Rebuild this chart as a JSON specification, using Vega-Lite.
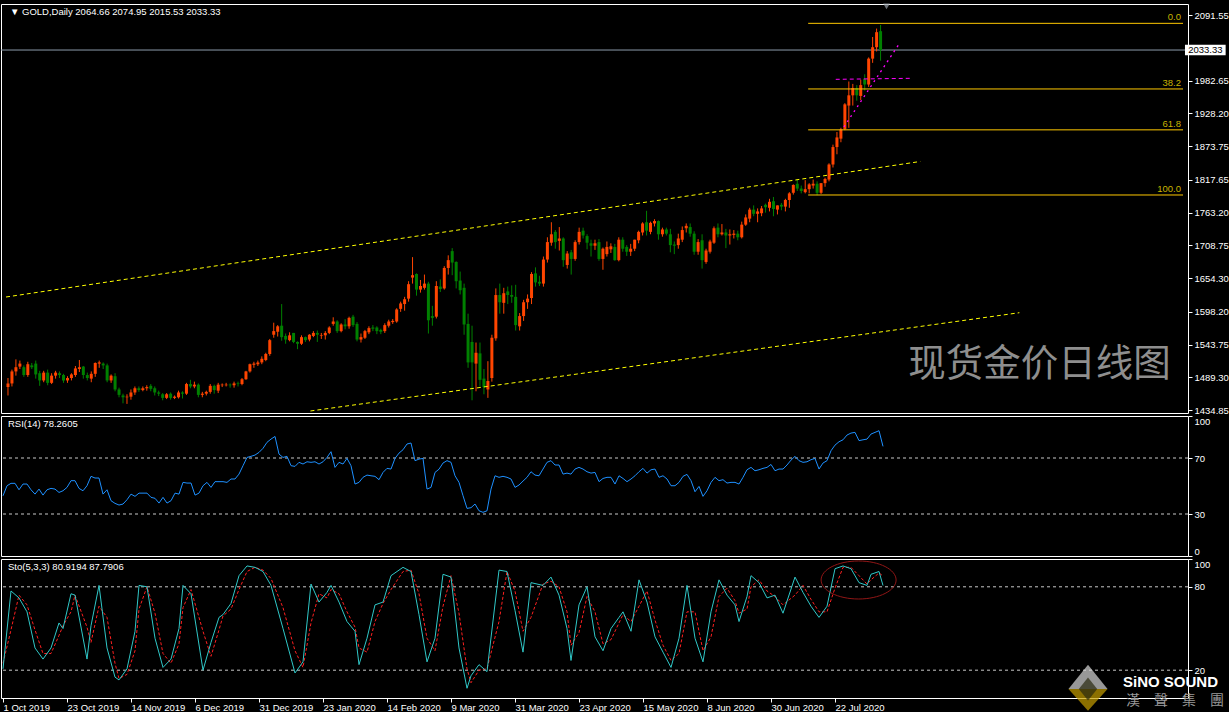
{
"$schema":"https://vega.github.io/schema/vega-lite/v6.json",
"background":"#000000",
"padding":{"left":0,"top":2,"right":0,"bottom":0},
"spacing":3,
"bounds":"flush",
"config":{"view":{"stroke":"#ffffff","strokeWidth":1},"font":"Liberation Sans"},
"datasets":{
"bars":[
{"i":0,"o":1473,"h":1488,"l":1459,"c":1479},{"i":1,"o":1479,"h":1502,"l":1474,"c":1499},{"i":2,"o":1499,"h":1519,"l":1492,"c":1506},{"i":3,"o":1507,"h":1517,"l":1503,"c":1512},{"i":4,"o":1506,"h":1509,"l":1490,"c":1493},{"i":5,"o":1493,"h":1515,"l":1490,"c":1511},{"i":6,"o":1509,"h":1513,"l":1503,"c":1506},{"i":7,"o":1512,"h":1517,"l":1487,"c":1494},{"i":8,"o":1496,"h":1500,"l":1475,"c":1484},{"i":9,"o":1484,"h":1500,"l":1481,"c":1497},
{"i":10,"o":1497,"h":1502,"l":1476,"c":1480},{"i":11,"o":1480,"h":1496,"l":1478,"c":1492},{"i":12,"o":1492,"h":1500,"l":1487,"c":1497},{"i":13,"o":1496,"h":1499,"l":1488,"c":1493},{"i":14,"o":1493,"h":1495,"l":1480,"c":1484},{"i":15,"o":1484,"h":1491,"l":1480,"c":1488},{"i":16,"o":1488,"h":1496,"l":1484,"c":1494},{"i":17,"o":1493,"h":1508,"l":1490,"c":1504},{"i":18,"o":1503,"h":1518,"l":1498,"c":1506},{"i":19,"o":1507,"h":1508,"l":1487,"c":1493},
{"i":20,"o":1493,"h":1497,"l":1484,"c":1488},{"i":21,"o":1487,"h":1499,"l":1481,"c":1495},{"i":22,"o":1495,"h":1514,"l":1490,"c":1513},{"i":23,"o":1512,"h":1517,"l":1505,"c":1514},{"i":24,"o":1512,"h":1514,"l":1503,"c":1509},{"i":25,"o":1509,"h":1512,"l":1481,"c":1484},{"i":26,"o":1484,"h":1494,"l":1480,"c":1492},{"i":27,"o":1491,"h":1496,"l":1466,"c":1469},{"i":28,"o":1469,"h":1472,"l":1456,"c":1460},{"i":29,"o":1459,"h":1462,"l":1446,"c":1456},
{"i":30,"o":1456,"h":1461,"l":1445,"c":1457},{"i":31,"o":1457,"h":1469,"l":1452,"c":1464},{"i":32,"o":1464,"h":1474,"l":1460,"c":1471},{"i":33,"o":1471,"h":1474,"l":1465,"c":1468},{"i":34,"o":1468,"h":1474,"l":1466,"c":1471},{"i":35,"o":1471,"h":1476,"l":1467,"c":1473},{"i":36,"o":1475,"h":1478,"l":1466,"c":1470},{"i":37,"o":1471,"h":1474,"l":1459,"c":1464},{"i":38,"o":1464,"h":1467,"l":1458,"c":1462},{"i":39,"o":1461,"h":1463,"l":1451,"c":1455},
{"i":40,"o":1455,"h":1463,"l":1453,"c":1461},{"i":41,"o":1462,"h":1464,"l":1452,"c":1455},{"i":42,"o":1455,"h":1459,"l":1453,"c":1457},{"i":43,"o":1456,"h":1467,"l":1454,"c":1464},{"i":44,"o":1464,"h":1466,"l":1454,"c":1462},{"i":45,"o":1462,"h":1480,"l":1460,"c":1478},{"i":46,"o":1478,"h":1485,"l":1471,"c":1474},{"i":47,"o":1474,"h":1482,"l":1471,"c":1477},{"i":48,"o":1477,"h":1479,"l":1456,"c":1460},{"i":49,"o":1460,"h":1465,"l":1456,"c":1462},
{"i":50,"o":1462,"h":1467,"l":1459,"c":1465},{"i":51,"o":1465,"h":1478,"l":1462,"c":1475},{"i":52,"o":1475,"h":1477,"l":1462,"c":1468},{"i":53,"o":1467,"h":1480,"l":1463,"c":1477},{"i":54,"o":1476,"h":1479,"l":1473,"c":1477},{"i":55,"o":1476,"h":1480,"l":1474,"c":1477},{"i":56,"o":1477,"h":1479,"l":1472,"c":1476},{"i":57,"o":1476,"h":1482,"l":1472,"c":1479},{"i":58,"o":1479,"h":1482,"l":1474,"c":1478},{"i":59,"o":1478,"h":1488,"l":1476,"c":1486},
{"i":60,"o":1486,"h":1500,"l":1485,"c":1499},{"i":61,"o":1499,"h":1512,"l":1497,"c":1511},{"i":62,"o":1510,"h":1515,"l":1505,"c":1512},{"i":63,"o":1511,"h":1517,"l":1508,"c":1514},{"i":64,"o":1514,"h":1524,"l":1511,"c":1520},{"i":65,"o":1518,"h":1530,"l":1516,"c":1528},{"i":66,"o":1528,"h":1553,"l":1525,"c":1551},{"i":67,"o":1560,"h":1580,"l":1555,"c":1566},{"i":68,"o":1565,"h":1576,"l":1557,"c":1574},{"i":69,"o":1575,"h":1611,"l":1550,"c":1556},
{"i":70,"o":1558,"h":1562,"l":1545,"c":1552},{"i":71,"o":1551,"h":1564,"l":1549,"c":1559},{"i":72,"o":1563,"h":1563,"l":1546,"c":1548},{"i":73,"o":1548,"h":1549,"l":1536,"c":1545},{"i":74,"o":1545,"h":1559,"l":1543,"c":1556},{"i":75,"o":1556,"h":1557,"l":1548,"c":1551},{"i":76,"o":1552,"h":1561,"l":1549,"c":1560},{"i":77,"o":1558,"h":1566,"l":1556,"c":1563},{"i":78,"o":1563,"h":1567,"l":1548,"c":1560},{"i":79,"o":1558,"h":1563,"l":1553,"c":1559},
{"i":80,"o":1559,"h":1566,"l":1552,"c":1563},{"i":81,"o":1563,"h":1574,"l":1561,"c":1572},{"i":82,"o":1578,"h":1589,"l":1575,"c":1582},{"i":83,"o":1582,"h":1584,"l":1563,"c":1566},{"i":84,"o":1566,"h":1579,"l":1564,"c":1577},{"i":85,"o":1577,"h":1586,"l":1569,"c":1574},{"i":86,"o":1574,"h":1590,"l":1570,"c":1588},{"i":87,"o":1590,"h":1593,"l":1573,"c":1576},{"i":88,"o":1578,"h":1581,"l":1549,"c":1552},{"i":89,"o":1552,"h":1562,"l":1547,"c":1556},
{"i":90,"o":1555,"h":1568,"l":1553,"c":1566},{"i":91,"o":1564,"h":1574,"l":1561,"c":1571},{"i":92,"o":1572,"h":1576,"l":1566,"c":1570},{"i":93,"o":1572,"h":1574,"l":1561,"c":1566},{"i":94,"o":1568,"h":1570,"l":1561,"c":1565},{"i":95,"o":1566,"h":1579,"l":1563,"c":1576},{"i":96,"o":1575,"h":1585,"l":1572,"c":1582},{"i":97,"o":1581,"h":1586,"l":1578,"c":1583},{"i":98,"o":1582,"h":1604,"l":1580,"c":1602},{"i":99,"o":1603,"h":1615,"l":1598,"c":1612},
{"i":100,"o":1611,"h":1623,"l":1600,"c":1619},{"i":101,"o":1620,"h":1649,"l":1615,"c":1644},{"i":102,"o":1655,"h":1689,"l":1645,"c":1659},{"i":103,"o":1661,"h":1662,"l":1625,"c":1635},{"i":104,"o":1635,"h":1651,"l":1630,"c":1641},{"i":105,"o":1638,"h":1660,"l":1635,"c":1645},{"i":106,"o":1645,"h":1648,"l":1562,"c":1584},{"i":107,"o":1591,"h":1608,"l":1575,"c":1588},{"i":108,"o":1590,"h":1649,"l":1587,"c":1641},{"i":109,"o":1640,"h":1652,"l":1631,"c":1636},
{"i":110,"o":1637,"h":1674,"l":1635,"c":1671},{"i":111,"o":1671,"h":1692,"l":1660,"c":1684},{"i":112,"o":1699,"h":1704,"l":1659,"c":1680},{"i":113,"o":1681,"h":1682,"l":1637,"c":1649},{"i":114,"o":1650,"h":1665,"l":1627,"c":1634},{"i":115,"o":1638,"h":1645,"l":1560,"c":1577},{"i":116,"o":1578,"h":1595,"l":1505,"c":1514},{"i":117,"o":1548,"h":1575,"l":1451,"c":1514},{"i":118,"o":1512,"h":1547,"l":1466,"c":1530},{"i":119,"o":1529,"h":1547,"l":1474,"c":1485},
{"i":120,"o":1487,"h":1503,"l":1461,"c":1473},{"i":121,"o":1469,"h":1516,"l":1455,"c":1483},{"i":122,"o":1488,"h":1560,"l":1482,"c":1555},{"i":123,"o":1554,"h":1637,"l":1550,"c":1626},{"i":124,"o":1626,"h":1645,"l":1595,"c":1614},{"i":125,"o":1613,"h":1638,"l":1595,"c":1629},{"i":126,"o":1632,"h":1640,"l":1611,"c":1626},{"i":127,"o":1626,"h":1642,"l":1613,"c":1623},{"i":128,"o":1623,"h":1643,"l":1567,"c":1576},{"i":129,"o":1574,"h":1596,"l":1567,"c":1591},
{"i":130,"o":1591,"h":1618,"l":1583,"c":1614},{"i":131,"o":1614,"h":1627,"l":1603,"c":1620},{"i":132,"o":1621,"h":1664,"l":1611,"c":1661},{"i":133,"o":1662,"h":1672,"l":1640,"c":1647},{"i":134,"o":1648,"h":1658,"l":1641,"c":1645},{"i":135,"o":1645,"h":1690,"l":1640,"c":1685},{"i":136,"o":1685,"h":1722,"l":1680,"c":1714},{"i":137,"o":1713,"h":1747,"l":1708,"c":1727},{"i":138,"o":1731,"h":1734,"l":1703,"c":1714},{"i":139,"o":1716,"h":1739,"l":1700,"c":1720},
{"i":140,"o":1720,"h":1722,"l":1673,"c":1684},{"i":141,"o":1676,"h":1699,"l":1670,"c":1695},{"i":142,"o":1697,"h":1701,"l":1660,"c":1686},{"i":143,"o":1686,"h":1717,"l":1683,"c":1714},{"i":144,"o":1714,"h":1738,"l":1710,"c":1731},{"i":145,"o":1733,"h":1738,"l":1720,"c":1725},{"i":146,"o":1724,"h":1727,"l":1702,"c":1713},{"i":147,"o":1712,"h":1718,"l":1690,"c":1708},{"i":148,"o":1708,"h":1718,"l":1701,"c":1712},{"i":149,"o":1714,"h":1719,"l":1683,"c":1686},
{"i":150,"o":1686,"h":1705,"l":1668,"c":1703},{"i":151,"o":1694,"h":1715,"l":1690,"c":1706},{"i":152,"o":1702,"h":1712,"l":1696,"c":1707},{"i":153,"o":1706,"h":1711,"l":1683,"c":1684},{"i":154,"o":1684,"h":1722,"l":1682,"c":1718},{"i":155,"o":1718,"h":1722,"l":1698,"c":1703},{"i":156,"o":1706,"h":1709,"l":1691,"c":1698},{"i":157,"o":1698,"h":1711,"l":1691,"c":1703},{"i":158,"o":1703,"h":1718,"l":1699,"c":1718},{"i":159,"o":1717,"h":1733,"l":1712,"c":1731},
{"i":160,"o":1730,"h":1747,"l":1725,"c":1745},{"i":161,"o":1747,"h":1766,"l":1725,"c":1733},{"i":162,"o":1731,"h":1748,"l":1727,"c":1746},{"i":163,"o":1745,"h":1752,"l":1740,"c":1749},{"i":164,"o":1749,"h":1750,"l":1718,"c":1727},{"i":165,"o":1727,"h":1738,"l":1723,"c":1735},{"i":166,"o":1735,"h":1738,"l":1725,"c":1728},{"i":167,"o":1727,"h":1736,"l":1697,"c":1709},{"i":168,"o":1710,"h":1715,"l":1694,"c":1708},{"i":169,"o":1709,"h":1728,"l":1703,"c":1720},
{"i":170,"o":1718,"h":1740,"l":1714,"c":1734},{"i":171,"o":1737,"h":1745,"l":1730,"c":1741},{"i":172,"o":1739,"h":1745,"l":1723,"c":1728},{"i":173,"o":1728,"h":1732,"l":1693,"c":1698},{"i":174,"o":1698,"h":1719,"l":1693,"c":1714},{"i":175,"o":1717,"h":1727,"l":1670,"c":1684},{"i":176,"o":1681,"h":1703,"l":1678,"c":1700},{"i":177,"o":1698,"h":1718,"l":1695,"c":1715},{"i":178,"o":1713,"h":1740,"l":1711,"c":1737},{"i":179,"o":1738,"h":1745,"l":1722,"c":1727},
{"i":180,"o":1727,"h":1744,"l":1725,"c":1730},{"i":181,"o":1730,"h":1736,"l":1704,"c":1725},{"i":182,"o":1725,"h":1735,"l":1710,"c":1727},{"i":183,"o":1726,"h":1734,"l":1720,"c":1728},{"i":184,"o":1728,"h":1733,"l":1717,"c":1722},{"i":185,"o":1722,"h":1748,"l":1720,"c":1743},{"i":186,"o":1743,"h":1760,"l":1741,"c":1755},{"i":187,"o":1753,"h":1771,"l":1747,"c":1768},{"i":188,"o":1768,"h":1775,"l":1757,"c":1761},{"i":189,"o":1761,"h":1770,"l":1747,"c":1765},
{"i":190,"o":1762,"h":1774,"l":1757,"c":1770},{"i":191,"o":1776,"h":1778,"l":1763,"c":1772},{"i":192,"o":1771,"h":1786,"l":1765,"c":1781},{"i":193,"o":1782,"h":1789,"l":1757,"c":1769},{"i":194,"o":1768,"h":1775,"l":1760,"c":1775},{"i":195,"o":1776,"h":1779,"l":1767,"c":1773},{"i":196,"o":1773,"h":1786,"l":1765,"c":1784},{"i":197,"o":1784,"h":1797,"l":1771,"c":1795},{"i":198,"o":1796,"h":1810,"l":1793,"c":1809},{"i":199,"o":1811,"h":1818,"l":1799,"c":1803},
{"i":200,"o":1803,"h":1808,"l":1795,"c":1799},{"i":201,"o":1797,"h":1817,"l":1795,"c":1802},{"i":202,"o":1802,"h":1812,"l":1795,"c":1810},{"i":203,"o":1808,"h":1818,"l":1803,"c":1811},{"i":204,"o":1811,"h":1815,"l":1792,"c":1796},{"i":205,"o":1796,"h":1812,"l":1794,"c":1812},{"i":206,"o":1812,"h":1821,"l":1806,"c":1819},{"i":207,"o":1818,"h":1845,"l":1815,"c":1843},{"i":208,"o":1843,"h":1876,"l":1838,"c":1872},{"i":209,"o":1872,"h":1897,"l":1860,"c":1888},
{"i":210,"o":1886,"h":1904,"l":1880,"c":1901},{"i":211,"o":1902,"h":1945,"l":1900,"c":1943},{"i":212,"o":1941,"h":1981,"l":1904,"c":1958},{"i":213,"o":1958,"h":1977,"l":1941,"c":1970},{"i":214,"o":1970,"h":1975,"l":1949,"c":1958},{"i":215,"o":1957,"h":1984,"l":1950,"c":1975},{"i":216,"o":1985,"h":1993,"l":1966,"c":1976},{"i":217,"o":1976,"h":2021,"l":1972,"c":2019},{"i":218,"o":2019,"h":2055,"l":2012,"c":2038},{"i":219,"o":2038,"h":2069,"l":2031,"c":2063},
{"i":220,"o":2064.66,"h":2074.95,"l":2015.53,"c":2033.33}
],
"rsi":[
{"i":0,"v":43},{"i":1,"v":50.2},{"i":2,"v":51.9},{"i":3,"v":51.9},{"i":4,"v":47.3},{"i":5,"v":51.4},{"i":6,"v":51.4},{"i":7,"v":47.3},{"i":8,"v":44.2},{"i":9,"v":47.8},{"i":10,"v":43.5},{"i":11,"v":47.3},{"i":12,"v":48.3},{"i":13,"v":47.8},{"i":14,"v":45.4},{"i":15,"v":46.6},{"i":16,"v":49},{"i":17,"v":53.8},{"i":18,"v":53.8},{"i":19,"v":48.3},{"i":20,"v":46.6},{"i":21,"v":50.2},{"i":22,"v":56.9},{"i":23,"v":55.7},{"i":24,"v":55.7},{"i":25,"v":44.2},{"i":26,"v":47.3},{"i":27,"v":39.5},{"i":28,"v":37.6},{"i":29,"v":36.4},{"i":30,"v":37.1},{"i":31,"v":40.2},{"i":32,"v":44.2},{"i":33,"v":42.6},{"i":34,"v":44.9},{"i":35,"v":44.9},{"i":36,"v":44.9},{"i":37,"v":41.9},{"i":38,"v":41.2},{"i":39,"v":37.8},{"i":40,"v":41.9},{"i":41,"v":37.8},{"i":42,"v":39.5},{"i":43,"v":44.9},{"i":44,"v":44.2},{"i":45,"v":52.6},{"i":46,"v":52.1},{"i":47,"v":52.1},{"i":48,"v":43.5},{"i":49,"v":44.9},{"i":50,"v":50.2},{"i":51,"v":52.6},{"i":52,"v":49},{"i":53,"v":53.1},{"i":54,"v":53.1},{"i":55,"v":53.1},{"i":56,"v":52.6},{"i":57,"v":55},{"i":58,"v":55},{"i":59,"v":58.5},{"i":60,"v":64.5},{"i":61,"v":70.4},{"i":62,"v":71.2},{"i":63,"v":72.1},{"i":64,"v":74},{"i":65,"v":76.9},{"i":66,"v":81.2},{"i":67,"v":83.5},{"i":68,"v":85.4},{"i":69,"v":72.8},{"i":70,"v":70.4},{"i":71,"v":71.2},{"i":72,"v":64.5},{"i":73,"v":64},{"i":74,"v":66.9},{"i":75,"v":65.7},{"i":76,"v":67.3},{"i":77,"v":66.9},{"i":78,"v":67.3},{"i":79,"v":65.7},{"i":80,"v":67.3},{"i":81,"v":70.4},{"i":82,"v":74.5},{"i":83,"v":63.3},{"i":84,"v":66.9},{"i":85,"v":65.7},{"i":86,"v":69.7},{"i":87,"v":64.5},{"i":88,"v":51.4},{"i":89,"v":52.6},{"i":90,"v":56.2},{"i":91,"v":57.8},{"i":92,"v":57.3},{"i":93,"v":56.9},{"i":94,"v":54.5},{"i":95,"v":59.7},{"i":96,"v":62.6},{"i":97,"v":62.1},{"i":98,"v":69.7},{"i":99,"v":73.5},{"i":100,"v":75.9},{"i":101,"v":80},{"i":102,"v":80.7},{"i":103,"v":68.1},{"i":104,"v":69.2},{"i":105,"v":69.7},{"i":106,"v":47.8},{"i":107,"v":49},{"i":108,"v":59.7},{"i":109,"v":62},{"i":110,"v":66.4},{"i":111,"v":68.1},{"i":112,"v":66.9},{"i":113,"v":57.3},{"i":114,"v":52.6},{"i":115,"v":43.1},{"i":116,"v":34},{"i":117,"v":34.5},{"i":118,"v":37.1},{"i":119,"v":32.3},{"i":120,"v":31.2},{"i":121,"v":32.3},{"i":122,"v":47.8},{"i":123,"v":57.3},{"i":124,"v":56.2},{"i":125,"v":56.9},{"i":126,"v":56.2},{"i":127,"v":55},{"i":128,"v":49},{"i":129,"v":50.7},{"i":130,"v":53.5},{"i":131,"v":56.2},{"i":132,"v":60.2},{"i":133,"v":57.8},{"i":134,"v":57.3},{"i":135,"v":62.1},{"i":136,"v":66.9},{"i":137,"v":68.1},{"i":138,"v":65},{"i":139,"v":65},{"i":140,"v":58.5},{"i":141,"v":59.2},{"i":142,"v":58.5},{"i":143,"v":62.1},{"i":144,"v":63.3},{"i":145,"v":62.1},{"i":146,"v":60.2},{"i":147,"v":59.2},{"i":148,"v":59.7},{"i":149,"v":53.1},{"i":150,"v":55.4},{"i":151,"v":56.2},{"i":152,"v":56.2},{"i":153,"v":51.4},{"i":154,"v":57.3},{"i":155,"v":55.4},{"i":156,"v":53.1},{"i":157,"v":55},{"i":158,"v":57.3},{"i":159,"v":60.2},{"i":160,"v":62.6},{"i":161,"v":59.2},{"i":162,"v":61.6},{"i":163,"v":62.1},{"i":164,"v":56.2},{"i":165,"v":57.3},{"i":166,"v":55},{"i":167,"v":50.2},{"i":168,"v":50.2},{"i":169,"v":52.6},{"i":170,"v":56.9},{"i":171,"v":58.3},{"i":172,"v":53.8},{"i":173,"v":45.9},{"i":174,"v":49.7},{"i":175,"v":42.6},{"i":176,"v":46.6},{"i":177,"v":52.6},{"i":178,"v":56.2},{"i":179,"v":53.8},{"i":180,"v":54.5},{"i":181,"v":52.1},{"i":182,"v":52.6},{"i":183,"v":52.6},{"i":184,"v":51.4},{"i":185,"v":56.2},{"i":186,"v":61.6},{"i":187,"v":63.3},{"i":188,"v":60.9},{"i":189,"v":61.6},{"i":190,"v":62.6},{"i":191,"v":63.3},{"i":192,"v":65.4},{"i":193,"v":60.9},{"i":194,"v":62.1},{"i":195,"v":62.1},{"i":196,"v":65},{"i":197,"v":68.5},{"i":198,"v":71.2},{"i":199,"v":68.1},{"i":200,"v":66.9},{"i":201,"v":67.3},{"i":202,"v":68.8},{"i":203,"v":69.7},{"i":204,"v":62.1},{"i":205,"v":66.4},{"i":206,"v":68.1},{"i":207,"v":75.2},{"i":208,"v":79.2},{"i":209,"v":81.6},{"i":210,"v":83},{"i":211,"v":86.4},{"i":212,"v":87.8},{"i":213,"v":88.3},{"i":214,"v":82.4},{"i":215,"v":83},{"i":216,"v":83.5},{"i":217,"v":87.1},{"i":218,"v":88.3},{"i":219,"v":89.5},{"i":220,"v":78.3}
],
"sto":[
{"i":0,"k":21,"d":25},{"i":2,"k":77,"d":49},{"i":4,"k":72,"d":74},{"i":6,"k":62,"d":67},{"i":8,"k":36,"d":49},{"i":10,"k":28,"d":32},{"i":12,"k":36,"d":32},{"i":14,"k":54,"d":45},{"i":15,"k":50,"d":52},{"i":17,"k":75,"d":62},{"i":18,"k":74,"d":74},{"i":21,"k":28,"d":51},{"i":22,"k":52,"d":40},{"i":24,"k":81,"d":66},{"i":26,"k":36,"d":58},{"i":28,"k":15,"d":25},{"i":29,"k":13,"d":14},{"i":31,"k":21,"d":17},{"i":33,"k":48,"d":34},{"i":34,"k":81,"d":64},{"i":36,"k":80,"d":80},{"i":38,"k":43,"d":61},{"i":40,"k":22,"d":32},{"i":42,"k":28,"d":25},{"i":44,"k":50,"d":39},{"i":45,"k":81,"d":65},{"i":47,"k":75,"d":78},{"i":50,"k":20,"d":48},{"i":52,"k":40,"d":30},{"i":54,"k":58,"d":49},{"i":55,"k":60,"d":59},{"i":57,"k":68,"d":64},{"i":59,"k":88,"d":78},{"i":61,"k":95,"d":91},{"i":63,"k":94,"d":94},{"i":65,"k":91,"d":92},{"i":67,"k":81,"d":86},{"i":70,"k":50,"d":65},{"i":73,"k":18,"d":34},{"i":75,"k":26,"d":22},{"i":77,"k":82,"d":54},{"i":79,"k":69,"d":75},{"i":81,"k":76,"d":72},{"i":82,"k":81,"d":78},{"i":84,"k":69,"d":75},{"i":86,"k":55,"d":62},{"i":88,"k":48,"d":51},{"i":89,"k":24,"d":36},{"i":91,"k":43,"d":33},{"i":93,"k":67,"d":55},{"i":95,"k":69,"d":68},{"i":97,"k":88,"d":78},{"i":100,"k":94,"d":91},{"i":102,"k":91,"d":92},{"i":104,"k":60,"d":75},{"i":106,"k":26,"d":43},{"i":108,"k":43,"d":34},{"i":110,"k":89,"d":66},{"i":112,"k":87,"d":88},{"i":114,"k":36,"d":61},{"i":116,"k":7,"d":21},{"i":117,"k":16,"d":11},{"i":119,"k":24,"d":20},{"i":121,"k":19,"d":21},{"i":124,"k":92,"d":55},{"i":126,"k":91,"d":91},{"i":128,"k":63,"d":77},{"i":130,"k":33,"d":48},{"i":132,"k":83,"d":58},{"i":135,"k":81,"d":82},{"i":137,"k":87,"d":84},{"i":139,"k":74,"d":80},{"i":141,"k":50,"d":62},{"i":142,"k":27,"d":38},{"i":144,"k":67,"d":47},{"i":146,"k":80,"d":73},{"i":148,"k":44,"d":62},{"i":150,"k":34,"d":39},{"i":152,"k":50,"d":42},{"i":154,"k":58,"d":54},{"i":155,"k":62,"d":60},{"i":157,"k":48,"d":55},{"i":159,"k":85,"d":66},{"i":161,"k":69,"d":77},{"i":163,"k":44,"d":56},{"i":165,"k":33,"d":38},{"i":167,"k":22,"d":27},{"i":169,"k":43,"d":32},{"i":171,"k":81,"d":62},{"i":173,"k":43,"d":62},{"i":175,"k":26,"d":34},{"i":177,"k":62,"d":44},{"i":179,"k":85,"d":73},{"i":181,"k":74,"d":79},{"i":183,"k":67,"d":70},{"i":184,"k":55,"d":61},{"i":186,"k":73,"d":64},{"i":187,"k":88,"d":80},{"i":189,"k":83,"d":85},{"i":191,"k":72,"d":77},{"i":193,"k":74,"d":73},{"i":195,"k":61,"d":67},{"i":198,"k":87,"d":74},{"i":200,"k":76,"d":81},{"i":202,"k":66,"d":71},{"i":204,"k":58,"d":62},{"i":206,"k":66,"d":62},{"i":208,"k":93,"d":79},{"i":210,"k":95,"d":94},{"i":212,"k":93,"d":94},{"i":214,"k":83,"d":88},{"i":216,"k":81,"d":82},{"i":217,"k":89,"d":85},{"i":219,"k":91,"d":90},{"i":220,"k":80.92,"d":87.79}
],
"trend":[{"g":"up","i":-0.5,"p":1622.7},{"g":"up","i":230,"p":1848},{"g":"lo","i":76.25,"p":1433.2},{"g":"lo","i":255,"p":1596.6}],
"fib":[{"lvl":"0.0","i0":201.75,"p":2077.7},{"lvl":"38.2","i0":201.75,"p":1968.6},{"lvl":"61.8","i0":201.75,"p":1900.6},{"lvl":"100.0","i0":201.75,"p":1792.3}],
"last":[{"t":"2033.33","p":2033.33,"i":301.9}]
},
"vconcat":[
{
"width":1187,"height":409,
"resolve":{"axis":{"x":"independent","y":"independent"}},
"layer":[
{"data":{"name":"last"},"mark":{"type":"rule","color":"#8c9aaa","strokeWidth":1},"encoding":{"y":{"field":"p","type":"quantitative","scale":{"domain":[1429.87,2109.84],"nice":false,"zero":false},"axis":null}}},
{"data":{"name":"bars"},"mark":{"type":"rule","strokeWidth":1},
 "encoding":{
  "x":{"field":"i","type":"quantitative","scale":{"domain":[-0.5,296.25],"nice":false,"zero":false},"axis":null},
  "y":{"field":"l","type":"quantitative",
       "axis":{"orient":"right","values":[2091.55,1982.65,1928.2,1873.75,1817.65,1763.2,1708.75,1654.3,1598.2,1543.75,1489.3,1434.85],"format":".2f","title":null,"grid":false,"domain":false,"tickColor":"#ffffff","tickSize":4,"labelColor":"#ffffff","labelFont":"Liberation Sans","labelFontSize":9.5,"labelPadding":2}},
  "y2":{"field":"h"},
  "color":{"condition":{"test":"datum.c >= datum.o","value":"#ff4500"},"value":"#008000"}}},
{"data":{"name":"bars"},"mark":{"type":"bar","width":3,"orient":"vertical"},
 "encoding":{
  "x":{"field":"i","type":"quantitative","axis":null},
  "y":{"field":"o","type":"quantitative","axis":null},
  "y2":{"field":"c"},
  "color":{"condition":{"test":"datum.c >= datum.o","value":"#ff4500"},"value":"#008000"}}},
{"data":{"name":"trend"},"mark":{"type":"line","color":"#ffff00","strokeDash":[4,3],"strokeWidth":1},
 "encoding":{"x":{"field":"i","type":"quantitative","axis":null},"y":{"field":"p","type":"quantitative","axis":null},"detail":{"field":"g"}}},
{"data":{"name":"fib"},"mark":{"type":"rule","color":"#ffc800","strokeWidth":1},
 "encoding":{"x":{"field":"i0","type":"quantitative","axis":null},"x2":{"datum":296.25},"y":{"field":"p","type":"quantitative","axis":null}}},
{"data":{"name":"fib"},"mark":{"type":"text","color":"#c8b400","align":"right","baseline":"bottom","dy":-1,"font":"Liberation Sans","fontSize":9.5},
 "encoding":{"x":{"datum":295.75,"axis":null},"y":{"field":"p","type":"quantitative","axis":null},"text":{"field":"lvl"}}},
{"data":{"values":[{"g":"h","i":208.7,"p":1984.6},{"g":"h","i":227.6,"p":1986.3}]},"mark":{"type":"line","color":"#ff00ff","strokeDash":[4,3],"strokeWidth":1},
 "encoding":{"x":{"field":"i","type":"quantitative","axis":null},"y":{"field":"p","type":"quantitative","axis":null}}},
{"data":{"values":[{"g":"d","i":210.75,"p":1905.4},{"g":"d","i":224.5,"p":2041.7}]},"mark":{"type":"line","color":"#ff00ff","strokeDash":[2,4],"strokeWidth":1.3},
 "encoding":{"x":{"field":"i","type":"quantitative","axis":null},"y":{"field":"p","type":"quantitative","axis":null}}},
{"data":{"values":[{"t":"▼ GOLD,Daily  2064.66 2074.95 2015.53 2033.33","i":0.5,"p":2096.5}]},"mark":{"type":"text","color":"#ffffff","align":"left","baseline":"middle","font":"Liberation Sans","fontSize":9.5},
 "encoding":{"x":{"field":"i","type":"quantitative","axis":null},"y":{"field":"p","type":"quantitative","axis":null},"text":{"field":"t"}}},
{"data":{"values":[{"t":"现货金价日线图","i":227,"p":1509.7}]},"mark":{"type":"text","color":"#8e8e8e","align":"left","baseline":"middle","font":"Noto Sans CJK SC","fontSize":37.5},
 "encoding":{"x":{"field":"i","type":"quantitative","axis":null},"y":{"field":"p","type":"quantitative","axis":null},"text":{"field":"t"}}},
{"data":{"values":[{"i":221.5,"p":2106}]},"mark":{"type":"point","shape":"triangle-down","filled":true,"size":45,"color":"#9aa2ac"},
 "encoding":{"x":{"field":"i","type":"quantitative","axis":null},"y":{"field":"p","type":"quantitative","axis":null}}},
{"data":{"name":"last"},"mark":{"type":"rect","color":"#ffffff"},"encoding":{"x":{"datum":296.75,"axis":null},"x2":{"datum":307},"y":{"datum":2042.2,"axis":null},"y2":{"datum":2024.6}}},
{"data":{"name":"last"},"mark":{"type":"text","color":"#000000","align":"center","baseline":"middle","font":"Liberation Sans","fontSize":9.5},
 "encoding":{"x":{"field":"i","type":"quantitative","axis":null},"y":{"field":"p","type":"quantitative","axis":null},"text":{"field":"t"}}}
]
},
{
"width":1187,"height":140,
"resolve":{"axis":{"x":"independent","y":"independent"}},
"layer":[
{"data":{"values":[{"v":70},{"v":30}]},"mark":{"type":"rule","color":"#c8c8c8","strokeDash":[3,3],"strokeWidth":1},
 "encoding":{"y":{"field":"v","type":"quantitative","scale":{"domain":[0,100],"nice":false},
   "axis":{"orient":"right","values":[100,70,30,0],"title":null,"grid":false,"domain":false,"tickColor":"#ffffff","tickSize":4,"labelColor":"#ffffff","labelFont":"Liberation Sans","labelFontSize":9.5,"labelPadding":2,"labelFlush":true}}}},
{"data":{"name":"rsi"},"mark":{"type":"line","color":"#1e90ff","strokeWidth":1},
 "encoding":{"x":{"field":"i","type":"quantitative","scale":{"domain":[-0.5,296.25],"nice":false,"zero":false},"axis":null},"y":{"field":"v","type":"quantitative","axis":null}}},
{"data":{"values":[{"t":"RSI(14) 78.2605","i":1.25,"v":94}]},"mark":{"type":"text","color":"#ffffff","align":"left","baseline":"middle","font":"Liberation Sans","fontSize":9.5},
 "encoding":{"x":{"field":"i","type":"quantitative","axis":null},"y":{"field":"v","type":"quantitative","axis":null},"text":{"field":"t"}}}
]
},
{
"width":1187,"height":139,
"resolve":{"axis":{"x":"independent","y":"independent"}},
"layer":[
{"data":{"values":[{"v":80},{"v":20}]},"mark":{"type":"rule","color":"#c8c8c8","strokeDash":[3,3],"strokeWidth":1},
 "encoding":{"y":{"field":"v","type":"quantitative","scale":{"domain":[0,100],"nice":false},
   "axis":{"orient":"right","values":[100,80,20],"title":null,"grid":false,"domain":false,"tickColor":"#ffffff","tickSize":4,"labelColor":"#ffffff","labelFont":"Liberation Sans","labelFontSize":9.5,"labelPadding":2,"labelFlush":true}}}},
{"data":{"name":"sto"},"mark":{"type":"line","color":"#ff2020","strokeDash":[3,2],"strokeWidth":1},
 "encoding":{"x":{"field":"i","type":"quantitative","scale":{"domain":[-0.5,296.25],"nice":false,"zero":false},
   "axis":{"orient":"bottom","values":[0,16,32,48,64,80,96,112,128,144,160,176,192,208],"labelExpr":"['1 Oct 2019','23 Oct 2019','14 Nov 2019','6 Dec 2019','31 Dec 2019','23 Jan 2020','14 Feb 2020','9 Mar 2020','31 Mar 2020','23 Apr 2020','15 May 2020','8 Jun 2020','30 Jun 2020','22 Jul 2020'][round(datum.value/16)]","labelAlign":"left","labelColor":"#ffffff","labelFont":"Liberation Sans","labelFontSize":9.5,"labelPadding":0,"labelFlush":false,"labelOverlap":false,"tickColor":"#ffffff","tickSize":4,"domain":false,"grid":false,"title":null}},
  "y":{"field":"d","type":"quantitative","axis":null}}},
{"data":{"name":"sto"},"mark":{"type":"line","color":"#30c8c8","strokeWidth":1},
 "encoding":{"x":{"field":"i","type":"quantitative","axis":null},"y":{"field":"k","type":"quantitative","axis":null}}},
{"data":{"values":[{"t":"Sto(5,3,3) 80.9194 87.7906","i":1.25,"v":94}]},"mark":{"type":"text","color":"#ffffff","align":"left","baseline":"middle","font":"Liberation Sans","fontSize":9.5},
 "encoding":{"x":{"field":"i","type":"quantitative","axis":null},"y":{"field":"v","type":"quantitative","axis":null},"text":{"field":"t"}}},
{"data":{"values":[{"i":213.9,"v":84.9}]},"mark":{"type":"point","shape":"M -1 0 A 1 0.507 0 1 1 1 0 A 1 0.507 0 1 1 -1 0 Z","size":5625,"filled":false,"color":"#d02020","strokeWidth":1},
 "encoding":{"x":{"field":"i","type":"quantitative","axis":null},"y":{"field":"v","type":"quantitative","axis":null}}},
{"data":{"values":[{"i":271.25,"v":7.3}]},"mark":{"type":"point","shape":"M 0 -1 L 0.85 0.05 L -0.85 0.05 Z","size":2116,"filled":true,"color":"#d8d8d8"},
 "encoding":{"x":{"field":"i","type":"quantitative","axis":null},"y":{"field":"v","type":"quantitative","axis":null}}},
{"data":{"values":[{"i":271.25,"v":7.3}]},"mark":{"type":"point","shape":"M -0.85 0.05 L 0.85 0.05 L 0 1 Z","size":2116,"filled":true,"color":"#c8a000"},
 "encoding":{"x":{"field":"i","type":"quantitative","axis":null},"y":{"field":"v","type":"quantitative","axis":null}}},
{"data":{"values":[{"i":271.25,"v":7.3}]},"mark":{"type":"point","shape":"M 0 -0.45 L 0.4 0.05 L 0 0.55 L -0.4 0.05 Z","size":2116,"filled":true,"color":"#2a2a10"},
 "encoding":{"x":{"field":"i","type":"quantitative","axis":null},"y":{"field":"v","type":"quantitative","axis":null}}},
{"data":{"values":[{"t":"SiNO SOUND","i":280,"v":11.3}]},"mark":{"type":"text","color":"#ffffff","align":"left","baseline":"middle","font":"Liberation Sans","fontWeight":"bold","fontSize":15},
 "encoding":{"x":{"field":"i","type":"quantitative","axis":null},"y":{"field":"v","type":"quantitative","axis":null},"text":{"field":"t"}}},
{"data":{"values":[{"t":"漢","i":282.5,"v":-2},{"t":"聲","i":289.5,"v":-2},{"t":"集","i":296.5,"v":-2},{"t":"團","i":303.5,"v":-2}]},"mark":{"type":"text","color":"#9a9a9a","align":"center","baseline":"middle","font":"Noto Sans CJK TC","fontSize":14},
 "encoding":{"x":{"field":"i","type":"quantitative","axis":null},"y":{"field":"v","type":"quantitative","axis":null},"text":{"field":"t"}}}
]
}
]
}
